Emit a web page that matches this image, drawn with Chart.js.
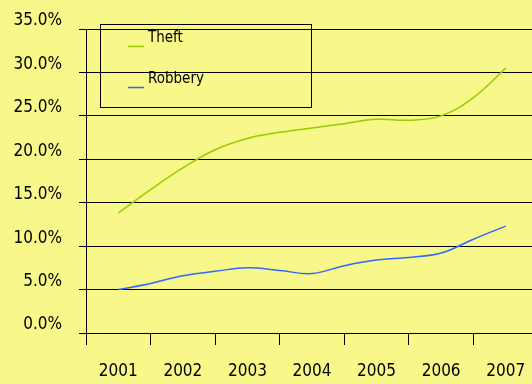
<!DOCTYPE html>
<html>
<head>
<meta charset="utf-8">
<script src="https://cdn.jsdelivr.net/npm/chart.js@4"></script>
<style>
  html, body { margin: 0; padding: 0; background: #F7F78A; overflow: hidden; }
  #wrap { width: 545px; height: 384px; }
</style>
</head>
<body>
<div id="wrap"><canvas id="chart"></canvas></div>
<script>
const years = ['2001', '2002', '2003', '2004', '2005', '2006', '2007']
const periods = [2001, 2001.5, 2002, 2002.5, 2003, 2003.5, 2004, 2004.5, 2005, 2005.5, 2006, 2006.5, 2007]
const theft = [13.8, 16.5, 19.0, 21.1, 22.4, 23.1, 23.6, 24.1, 24.6, 24.5, 25.0, 27.1, 30.5]
const robbery = [5.0, 5.7, 6.6, 7.1, 7.5, 7.2, 6.85, 7.75, 8.4, 8.7, 9.2, 10.8, 12.3]

const fontFamily = "'DejaVu Sans Condensed', 'DejaVu Sans', sans-serif"

// legend box sits inside the plot, drawn by hand
const boxLegend = {
  id: 'boxLegend',
  afterDraw(chart) {
    const ctx = chart.ctx
    ctx.save()
    ctx.strokeStyle = '#000'
    ctx.lineWidth = 1
    ctx.strokeRect(100.5, 24.5, 211, 83)
    ctx.font = '15px ' + fontFamily
    ctx.textBaseline = 'middle'
    chart.data.datasets.forEach((ds, i) => {
      const y = 46.5 + i * 41
      ctx.strokeStyle = ds.borderColor
      ctx.lineWidth = 1.5
      ctx.beginPath()
      ctx.moveTo(128, y)
      ctx.lineTo(144, y)
      ctx.stroke()
      ctx.fillStyle = '#000'
      ctx.fillText(ds.label, 148, y - 8)
    })
    ctx.restore()
  }
}

const toPoints = vals => periods.map((p, i) => ({ x: p, y: vals[i] }))

new Chart(document.getElementById('chart'), {
  type: 'line',
  plugins: [boxLegend],
  data: {
    labels: years,
    datasets: [
      {
        label: 'Theft',
        data: toPoints(theft),
        xAxisID: 'xData',
        borderColor: '#99CC00',
        borderWidth: 1.5,
        pointRadius: 0,
        tension: 0.4,
      },
      {
        label: 'Robbery',
        data: toPoints(robbery),
        xAxisID: 'xData',
        borderColor: '#3366FF',
        borderWidth: 1.5,
        pointRadius: 0,
        tension: 0.4,
      },
    ],
  },
  options: {
    animation: false,
    responsive: true,
    maintainAspectRatio: false,
    layout: { padding: { top: 29, right: 7, left: 0, bottom: 0 } },
    plugins: { legend: { display: false }, tooltip: { enabled: false } },
    scales: {
      x: {
        type: 'category',
        offset: true,
        grid: { offset: true, drawOnChartArea: false, tickLength: 12, color: '#000' },
        border: { display: false },
        ticks: { color: '#000', font: { family: fontFamily, size: 17 }, padding: 16, maxRotation: 0, autoSkip: false },
        afterFit(s) { s.height = 51 },
      },
      xData: { type: 'linear', display: false, min: 2000.5, max: 2007.5 },
      y: {
        min: 0,
        max: 35,
        ticks: {
          stepSize: 5,
          callback: v => v.toFixed(1) + '%',
          padding: 17,
          labelOffset: -8,
          color: '#000',
          font: { family: fontFamily, size: 17 },
        },
        grid: { color: '#000', tickLength: 7 },
        border: { display: true, color: '#000' },
        afterFit(s) { s.width = 86 },
      },
    },
  },
})
</script>
</body>
</html>
